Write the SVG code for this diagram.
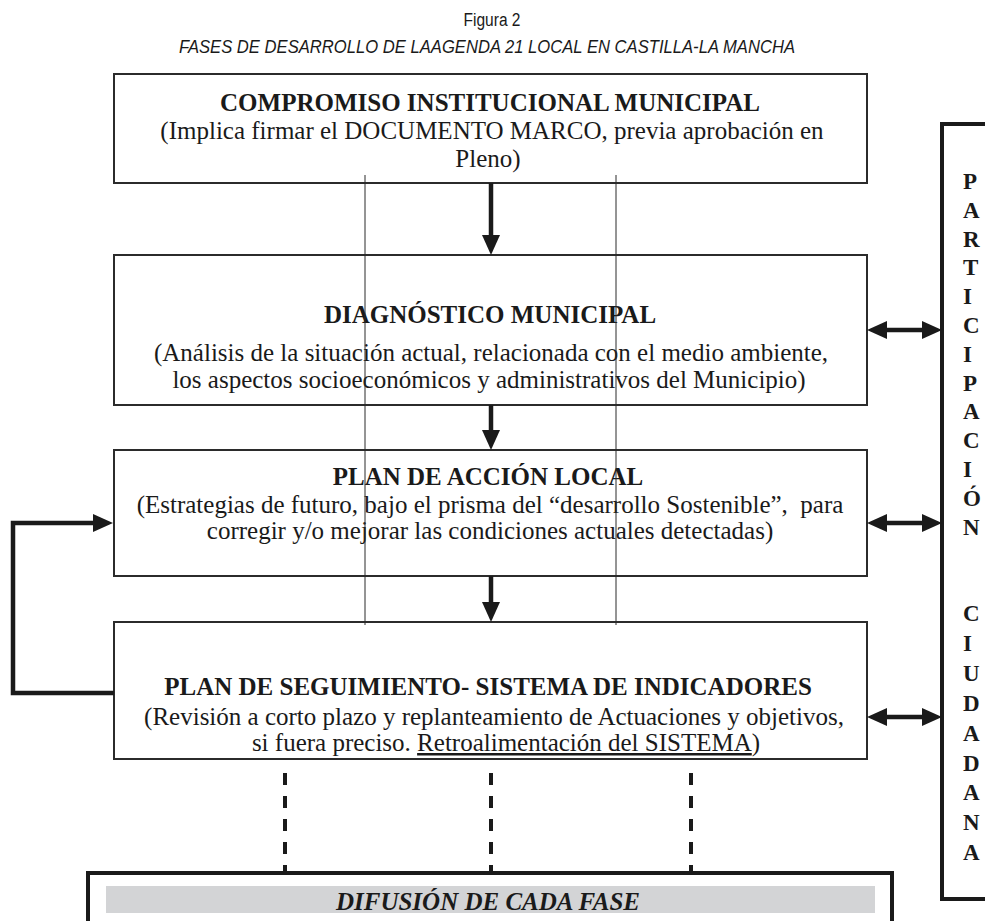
<svg xmlns="http://www.w3.org/2000/svg" width="985" height="921" viewBox="0 0 985 921">
<style>
.box{fill:#fff;stroke:#2b2b2b;stroke-width:2}
.t{font-family:"Liberation Serif","Times New Roman",serif;font-size:25px;fill:#1a1a1a;text-anchor:middle}
.b{font-weight:bold}
.p{font-family:"Liberation Serif","Times New Roman",serif;font-size:23px;font-weight:bold;fill:#1a1a1a}
.h{font-family:"Liberation Sans",Arial,sans-serif;fill:#1a1a1a;text-anchor:middle}
.arr{stroke:#1a1a1a;stroke-width:4.5;fill:none}
.thin{stroke:#2a2a2a;stroke-width:1}
.dash{stroke:#1a1a1a;stroke-width:4;stroke-dasharray:12 11}
.thick{fill:none;stroke:#1a1a1a;stroke-width:4}
</style>
<defs>
<marker id="ah" viewBox="0 0 20 18" refX="10" refY="9" markerWidth="20" markerHeight="18" orient="auto-start-reverse" markerUnits="userSpaceOnUse">
<path d="M0,0 L20,9 L0,18 z" fill="#1a1a1a"/>
</marker>
</defs>
<rect width="985" height="921" fill="#fff"/>
<g id="title">
<text class="h" x="492" y="26" font-size="18" textLength="57" lengthAdjust="spacingAndGlyphs">Figura 2</text>
<text class="h" x="487" y="53" font-size="18" font-style="italic" textLength="616" lengthAdjust="spacingAndGlyphs">FASES DE DESARROLLO DE LAAGENDA 21 LOCAL EN CASTILLA-LA MANCHA</text>
</g>
<g id="compromiso">
<rect class="box" x="114" y="74" width="753" height="109"/>
<text class="t b" x="490" y="111">COMPROMISO INSTITUCIONAL MUNICIPAL</text>
<text class="t" x="492" y="139">(Implica firmar el DOCUMENTO MARCO, previa aprobación en</text>
<text class="t" x="488" y="167">Pleno)</text>
</g>
<g id="diagnostico">
<rect class="box" x="114" y="255" width="753" height="150"/>
<text class="t b" x="490" y="323">DIAGNÓSTICO MUNICIPAL</text>
<text class="t" x="491" y="361">(Análisis de la situación actual, relacionada con el medio ambiente,</text>
<text class="t" x="489" y="388">los aspectos socioeconómicos y administrativos del Municipio)</text>
</g>
<g id="plan-accion">
<rect class="box" x="114" y="450" width="753" height="126"/>
<text class="t b" x="488" y="485">PLAN DE ACCIÓN LOCAL</text>
<text class="t" x="490" y="513" xml:space="preserve">(Estrategias de futuro, bajo el prisma del “desarrollo Sostenible”,  para</text>
<text class="t" x="490" y="539">corregir y/o mejorar las condiciones actuales detectadas)</text>
</g>
<g id="plan-seguimiento">
<rect class="box" x="114" y="622" width="753" height="137"/>
<text class="t b" x="488" y="695">PLAN DE SEGUIMIENTO- SISTEMA DE INDICADORES</text>
<text class="t" x="494" y="725">(Revisión a corto plazo y replanteamiento de Actuaciones y objetivos,</text>
<text class="t" x="506" y="751">si fuera preciso. <tspan style="text-decoration:underline">Retroalimentación del SISTEMA</tspan>)</text>
</g>
<g id="participacion">
<path class="thick" d="M990,124 H942 V899 H990"/>
<text class="p" x="963" y="189">P</text>
<text class="p" x="963" y="217.8">A</text>
<text class="p" x="963" y="246.6">R</text>
<text class="p" x="963" y="275.4">T</text>
<text class="p" x="963" y="304.2">I</text>
<text class="p" x="963" y="333">C</text>
<text class="p" x="963" y="361.8">I</text>
<text class="p" x="963" y="390.6">P</text>
<text class="p" x="963" y="419.4">A</text>
<text class="p" x="963" y="448.2">C</text>
<text class="p" x="963" y="477">I</text>
<text class="p" x="963" y="505.8">Ó</text>
<text class="p" x="963" y="534.6">N</text>
<text class="p" x="963" y="621">C</text>
<text class="p" x="963" y="650.9">I</text>
<text class="p" x="963" y="680.8">U</text>
<text class="p" x="963" y="710.7">D</text>
<text class="p" x="963" y="740.6">A</text>
<text class="p" x="963" y="770.5">D</text>
<text class="p" x="963" y="800.4">A</text>
<text class="p" x="963" y="830.3">N</text>
<text class="p" x="963" y="860.2">A</text>
</g>
<g id="difusion">
<path class="thick" d="M88,930 V873 H892 V930"/>
<rect x="106" y="886" width="769" height="27" fill="#d3d4d6"/>
<text class="t b" x="488" y="910" font-style="italic">DIFUSIÓN DE CADA FASE</text>
</g>
<g id="connectors">
<line class="thin" x1="365" y1="175" x2="365" y2="625"/>
<line class="thin" x1="616" y1="175" x2="616" y2="625"/>
<line class="arr" x1="491" y1="183" x2="491" y2="245" marker-end="url(#ah)"/>
<line class="arr" x1="491" y1="405" x2="491" y2="440" marker-end="url(#ah)"/>
<line class="arr" x1="491" y1="576" x2="491" y2="612" marker-end="url(#ah)"/>
<line class="arr" x1="877" y1="330" x2="932" y2="330" marker-start="url(#ah)" marker-end="url(#ah)"/>
<line class="arr" x1="877" y1="523" x2="932" y2="523" marker-start="url(#ah)" marker-end="url(#ah)"/>
<line class="arr" x1="877" y1="717" x2="932" y2="717" marker-start="url(#ah)" marker-end="url(#ah)"/>
<path class="arr" d="M114,693 H13 V523 H103" marker-end="url(#ah)"/>
<line class="dash" x1="285" y1="773" x2="285" y2="871"/>
<line class="dash" x1="491" y1="773" x2="491" y2="871"/>
<line class="dash" x1="691" y1="773" x2="691" y2="871"/>
</g>
</svg>
